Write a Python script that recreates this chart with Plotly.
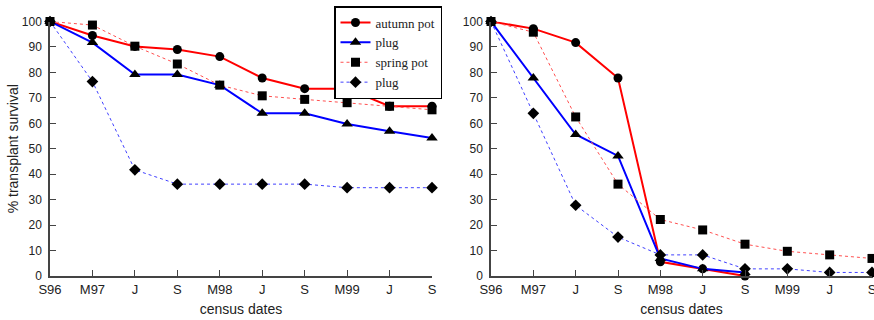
import plotly.graph_objects as go

dates = ["S96", "M97", "J", "S", "M98", "J", "S", "M99", "J", "S"]
xpos = list(range(len(dates)))

# left panel
L_autumn_pot = [100, 94.5, 90.2, 89.0, 86.2, 77.8, 73.6, 73.6, 66.7, 66.7]
L_autumn_plug = [100, 91.7, 79.2, 79.2, 75.0, 63.9, 63.9, 59.7, 56.9, 54.2]
L_spring_pot = [100, 98.6, 90.3, 83.3, 75.0, 70.8, 69.4, 68.1, 66.7, 65.3]
L_spring_plug = [100, 76.4, 41.7, 36.1, 36.1, 36.1, 36.1, 34.7, 34.7, 34.7]

# right panel
R_autumn_pot = [100, 97.2, 91.7, 77.8, 5.6, 2.8, 0.0]
R_autumn_plug = [100, 77.8, 55.6, 47.2, 6.9, 2.8, 1.4]
R_spring_pot = [100, 95.8, 62.5, 36.1, 22.2, 18.1, 12.5, 9.7, 8.3, 6.9]
R_spring_plug = [100, 63.9, 27.8, 15.3, 8.3, 8.3, 2.8, 2.8, 1.4, 1.4]

names = ["autumn pot", "plug", "spring pot", "plug"]
symbols = ["circle", "triangle-up", "square", "diamond"]
colors = ["#ff0000", "#0000ff", "#ff5050", "#4040ff"]
widths = [2, 2, 1, 1]
dashes = ["solid", "solid", "dot", "dot"]
msizes = [9, 10, 9, 9]

fig = go.Figure()
left = [L_autumn_pot, L_autumn_plug, L_spring_pot, L_spring_plug]
right = [R_autumn_pot, R_autumn_plug, R_spring_pot, R_spring_plug]
for i in range(4):
    for panel, data in (("1", left[i]), ("2", right[i])):
        fig.add_trace(go.Scatter(
            x=xpos[:len(data)], y=data, mode="lines+markers", name=names[i],
            showlegend=(panel == "1"),
            line=dict(color=colors[i], width=widths[i], dash=dashes[i]),
            marker=dict(symbol=symbols[i], color="black", size=msizes[i]),
            xaxis="x" if panel == "1" else "x2",
            yaxis="y" if panel == "1" else "y2",
            cliponaxis=False,
        ))

W, H = 874, 320
ydom = [(H - 276) / H, (H - 21.5) / H]
sans = "Liberation Sans, Arial, sans-serif"
axfont = dict(family=sans, size=13, color="#222")
yfont = dict(family=sans, size=12, color="#222")
common_x = dict(tickmode="array", tickvals=xpos, ticktext=dates, range=[0, 9],
                showline=True, linecolor="#444", linewidth=1.5, ticks="inside",
                ticklen=6, tickcolor="#444", showgrid=False, zeroline=False,
                tickfont=axfont, ticklabelstandoff=1, automargin=False,
                ticklabeloverflow="allow",
                title=dict(text="census dates", font=dict(family=sans, size=14, color="#222"), standoff=8))
common_y = dict(range=[0, 100], tickvals=list(range(0, 101, 10)), showline=True,
                linecolor="#444", linewidth=1.5, ticks="inside", ticklen=6,
                tickcolor="#444", showgrid=False, zeroline=False, tickfont=yfont,
                ticklabelstandoff=4, automargin=False)

fig.update_layout(
    width=W, height=H, margin=dict(l=0, r=0, t=0, b=0, autoexpand=False),
    plot_bgcolor="white", paper_bgcolor="white",
    xaxis=dict(domain=[50 / W, 432 / W], anchor="y", **common_x),
    xaxis2=dict(domain=[491 / W, 872 / W], anchor="y2", **common_x),
    yaxis=dict(domain=ydom, anchor="x",
               title=dict(text="% transplant survival", font=dict(family=sans, size=14, color="#222"), standoff=0),
               **common_y),
    yaxis2=dict(domain=ydom, anchor="x2", **common_y),
    legend=dict(x=442 / W, y=1 - 6 / H, xanchor="right", yanchor="top",
                bgcolor="white", bordercolor="black", borderwidth=1.5,
                font=dict(family="Liberation Serif, Times New Roman, serif", size=13, color="#222"),
                itemwidth=30, tracegroupgap=0),
    showlegend=True,
)

fig.write_html("out.html")
